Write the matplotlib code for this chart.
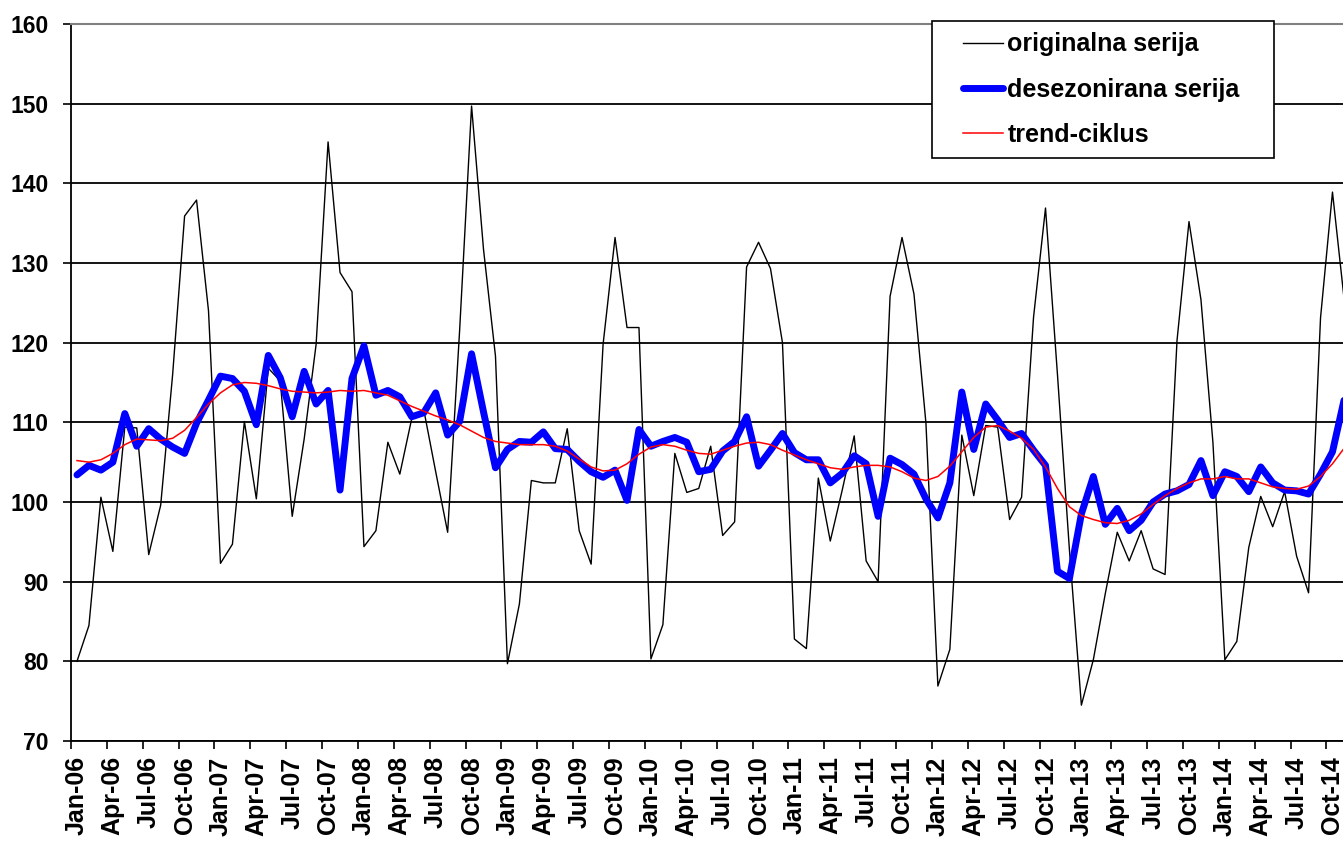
import numpy as np
import matplotlib
matplotlib.use("Agg")
import matplotlib.pyplot as plt
from matplotlib.legend_handler import HandlerLine2D

plt.rcParams['font.family'] = ['Liberation Sans', 'DejaVu Sans']

# monthly series, Jan-06 .. Nov-14
originalna = [80.0, 84.5, 100.6, 93.8, 109.4, 109.3, 93.4, 99.6, 116.0, 135.9, 137.9, 124.0,
              92.3, 94.7, 110.1, 100.4, 116.8, 115.2, 98.2, 107.9, 119.8, 145.2, 128.8, 126.4,
              94.4, 96.4, 107.5, 103.5, 110.5, 111.6, 103.8, 96.2, 121.5, 149.7, 131.7, 118.3,
              79.7, 87.2, 102.7, 102.4, 102.4, 109.2, 96.4, 92.2, 119.8, 133.2, 121.9, 121.9,
              80.3, 84.6, 106.1, 101.2, 101.7, 107.0, 95.8, 97.5, 129.5, 132.6, 129.3, 120.0,
              82.8, 81.6, 103.0, 95.1, 101.5, 108.3, 92.6, 90.0, 125.8, 133.2, 126.1, 109.9,
              76.9, 81.5, 108.4, 100.8, 109.6, 109.4, 97.8, 100.6, 123.2, 136.9, 116.0, 94.0,
              74.5, 80.2, 88.5, 96.2, 92.6, 96.4, 91.6, 90.9, 120.3, 135.2, 125.4, 107.5,
              80.2, 82.5, 94.3, 100.7, 96.9, 101.3, 93.2, 88.6, 123.1, 138.9, 125.1]

desezonirana = [103.4, 104.6, 104.0, 105.0, 111.1, 107.0, 109.2, 107.9, 106.9, 106.1, 109.9, 112.8,
                115.8, 115.5, 113.9, 109.7, 118.4, 115.6, 110.7, 116.4, 112.3, 114.0, 101.5, 115.5,
                119.6, 113.4, 114.0, 113.2, 110.7, 111.2, 113.7, 108.4, 110.1, 118.6, 111.3, 104.3,
                106.6, 107.6, 107.5, 108.8, 106.7, 106.6, 105.1, 103.8, 103.1, 104.0, 100.2, 109.1,
                107.0, 107.6, 108.1, 107.5, 103.8, 104.1, 106.4, 107.6, 110.7, 104.5, 106.5, 108.6,
                106.2, 105.3, 105.3, 102.4, 103.6, 105.8, 104.8, 98.2, 105.5, 104.7, 103.5, 100.4,
                98.0, 102.4, 113.8, 106.6, 112.3, 110.3, 108.1, 108.6, 106.5, 104.6, 91.3, 90.4,
                98.5, 103.2, 97.2, 99.2, 96.4, 97.7, 100.0, 101.0, 101.4, 102.2, 105.2, 100.8,
                103.8, 103.2, 101.3, 104.4, 102.4, 101.5, 101.4, 101.0, 103.5, 106.3, 113.0]

trend = [105.2, 105.0, 105.3, 106.1, 107.2, 107.9, 107.8, 107.7, 108.0, 109.0, 110.6, 112.3,
         113.7, 114.7, 115.0, 114.9, 114.6, 114.2, 113.9, 113.8, 113.7, 113.8, 114.0, 113.9,
         114.0, 113.7, 113.4, 112.7, 112.0, 111.4, 110.8, 110.3, 109.7, 108.9, 108.1, 107.6,
         107.4, 107.2, 107.2, 107.2, 107.0, 106.4, 105.4, 104.4, 103.9, 104.0, 104.8, 106.0,
         106.9, 107.2, 107.0, 106.5, 106.1, 106.0, 106.5, 107.0, 107.4, 107.5, 107.2, 106.5,
         105.9, 105.3, 104.8, 104.3, 104.1, 104.4, 104.6, 104.6, 104.4, 103.8, 103.0, 102.7,
         103.2, 104.5, 106.3, 108.1, 109.4, 109.6, 108.9, 108.0, 106.6, 104.4, 101.7, 99.4,
         98.3, 97.8, 97.4, 97.3, 97.7, 98.5, 99.7, 100.8, 101.7, 102.4, 102.9, 102.9,
         103.2, 102.9, 102.9, 102.4, 101.9, 101.7, 101.6, 102.0, 103.2, 104.8, 106.8]

months = ['Jan', 'Apr', 'Jul', 'Oct']
years = ['06', '07', '08', '09', '10', '11', '12', '13', '14']
tick_labels = [m + '-' + y for y in years for m in months]

x = np.arange(len(originalna))


class ShiftedLine(HandlerLine2D):
    # legend line starts a bit further right, like in the original
    shift = 14.0

    def create_artists(self, legend, orig_handle, xdescent, ydescent, width,
                       height, fontsize, trans):
        return super().create_artists(legend, orig_handle, xdescent - self.shift,
                                      ydescent, width - self.shift, height,
                                      fontsize, trans)


fig = plt.figure(figsize=(13.43, 8.52), dpi=100)
ax = fig.add_axes([71 / 1343, 111 / 852, 1 - 71 / 1343, 717 / 852])

ax.plot(x, originalna, color='black', lw=1.0, label='originalna serija')
ax.plot(x, desezonirana, color='#0000FF', lw=5, solid_joinstyle='round',
        solid_capstyle='round', label='desezonirana serija')
ax.plot(x, trend, color='#FF0000', lw=1.1, label='trend-ciklus')

ax.set_xlim(-0.5, 105.88)
ax.set_ylim(70, 160)

# y axis
ax.set_yticks(np.arange(70, 161, 10))
ax.tick_params(axis='y', direction='out', length=6, width=1.2, pad=10,
               labelsize=16.5)
for t in ax.get_yticklabels():
    t.set_fontweight('bold')
ax.grid(axis='y', color='black', lw=1.3)
ax.set_axisbelow(True)

# x axis: ticks on category boundaries, labels on the months
ax.set_xticks(np.arange(-0.5, 106, 3))
ax.set_xticklabels([])
ax.set_xticks(np.arange(0, 106, 3), minor=True)
ax.set_xticklabels(tick_labels, minor=True, rotation=90, fontsize=18,
                   fontweight='bold')
ax.tick_params(axis='x', which='major', direction='out', length=6, width=1.2)
ax.tick_params(axis='x', which='minor', length=0, pad=11)

ax.spines['right'].set_visible(False)
ax.spines['top'].set_color('#808080')
ax.spines['top'].set_linewidth(1.5)
ax.spines['left'].set_linewidth(1.3)
ax.spines['bottom'].set_linewidth(1.3)

leg = fig.legend(loc='upper left', bbox_to_anchor=(932 / 1343, 1 - 21 / 852, 342 / 1343, 0.0),
                 mode='expand', borderaxespad=0, frameon=True, fancybox=False,
                 edgecolor='black', framealpha=1, handlelength=2.4, handletextpad=0.16,
                 labelspacing=0.85, borderpad=0.45,
                 handler_map={matplotlib.lines.Line2D: ShiftedLine()},
                 prop={'weight': 'bold', 'size': 18})
leg.get_frame().set_linewidth(1.2)

fig.savefig('out.png', dpi=100)
